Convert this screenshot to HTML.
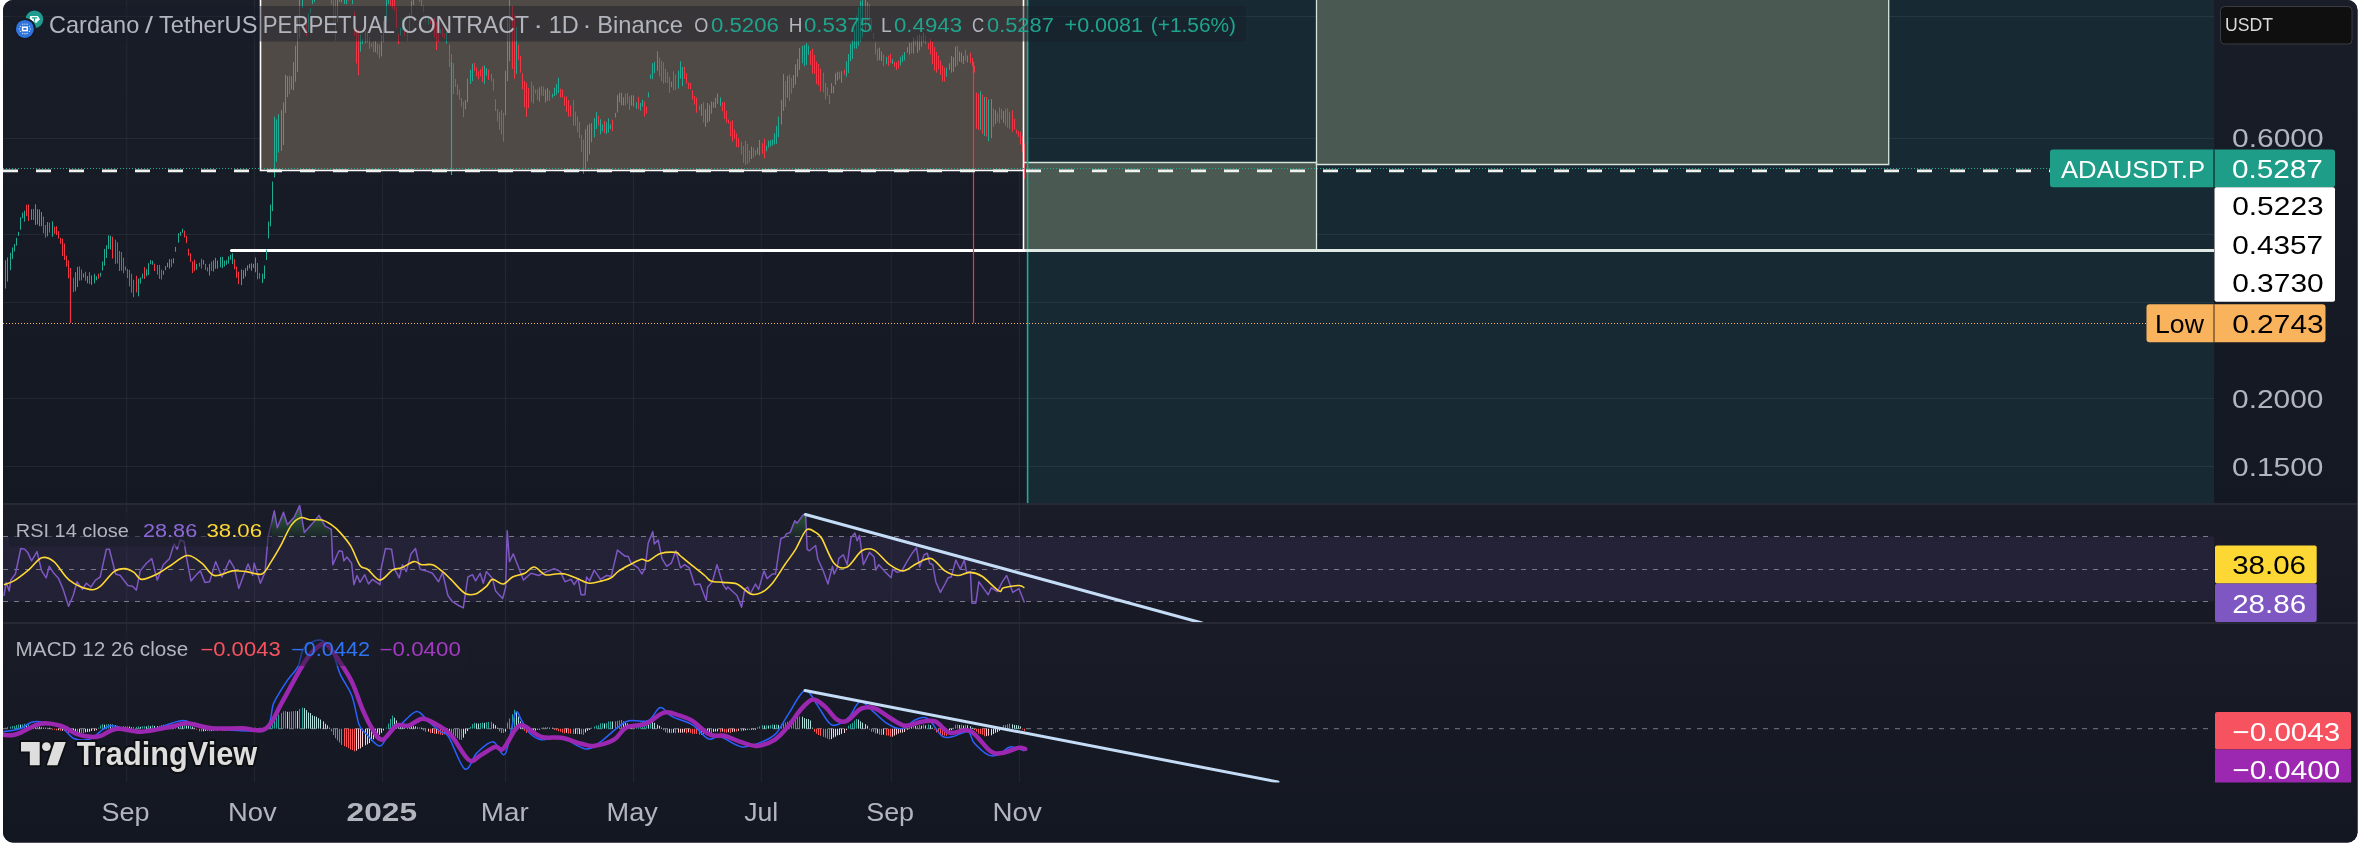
<!DOCTYPE html><html><head><meta charset="utf-8"><style>html,body{margin:0;padding:0;background:#fff;width:2360px;height:844px;overflow:hidden}svg{display:block;will-change:transform}text{font-family:"Liberation Sans",sans-serif}</style></head><body>
<svg width="2360" height="844" viewBox="0 0 2360 844">
<defs>
<clipPath id="cont"><rect x="3" y="0" width="2354.5" height="842.5" rx="10" ry="10"/></clipPath>
<clipPath id="mainc"><rect x="3" y="0" width="2211" height="503.5"/></clipPath>
<clipPath id="rsic"><rect x="3" y="504.5" width="2211" height="118"/></clipPath>
<clipPath id="macdc"><rect x="3" y="623.5" width="2211" height="159"/></clipPath>
<linearGradient id="bgg" x1="0" y1="0" x2="0" y2="1"><stop offset="0" stop-color="#181c27"/><stop offset="1" stop-color="#131722"/></linearGradient>
<linearGradient id="obg" gradientUnits="userSpaceOnUse" x1="0" y1="505" x2="0" y2="537"><stop offset="0" stop-color="#3f9a48" stop-opacity="0.6"/><stop offset="1" stop-color="#3f9a48" stop-opacity="0.08"/></linearGradient>
<linearGradient id="mg" x1="0" y1="0" x2="0" y2="1"><stop offset="0" stop-color="#191d28"/><stop offset="1" stop-color="#141823"/></linearGradient>
<linearGradient id="rg" x1="0" y1="0" x2="0" y2="1"><stop offset="0" stop-color="#1a1d28"/><stop offset="1" stop-color="#171a25"/></linearGradient>
<linearGradient id="bgg2" x1="0" y1="0" x2="0" y2="1"><stop offset="0" stop-color="#191c27"/><stop offset="1" stop-color="#131722"/></linearGradient>
</defs>
<rect width="2360" height="844" fill="#ffffff"/>
<g clip-path="url(#cont)">
<rect x="0" y="0" width="2360" height="844" fill="url(#bgg)"/>
<rect x="0" y="623.5" width="2360" height="221" fill="url(#bgg2)"/>
<g clip-path="url(#mainc)">
<rect x="3" y="0" width="2211" height="503.5" fill="url(#mg)"/>
<rect x="1027.5" y="0" width="1190" height="503.5" fill="#172a33"/>
<rect x="3" y="16.0" width="2211" height="1" fill="#ffffff" fill-opacity="0.06"/>
<rect x="3" y="138.0" width="2211" height="1" fill="#ffffff" fill-opacity="0.06"/>
<rect x="3" y="234.0" width="2211" height="1" fill="#ffffff" fill-opacity="0.06"/>
<rect x="3" y="302.0" width="2211" height="1" fill="#ffffff" fill-opacity="0.06"/>
<rect x="3" y="398.0" width="2211" height="1" fill="#ffffff" fill-opacity="0.06"/>
<rect x="3" y="466.0" width="2211" height="1" fill="#ffffff" fill-opacity="0.06"/>
<rect x="126.3" y="0" width="1" height="504" fill="#ffffff" fill-opacity="0.06"/>
<rect x="254.0" y="0" width="1" height="504" fill="#ffffff" fill-opacity="0.06"/>
<rect x="381.9" y="0" width="1" height="504" fill="#ffffff" fill-opacity="0.06"/>
<rect x="505.0" y="0" width="1" height="504" fill="#ffffff" fill-opacity="0.06"/>
<rect x="633.0" y="0" width="1" height="504" fill="#ffffff" fill-opacity="0.06"/>
<rect x="760.7" y="0" width="1" height="504" fill="#ffffff" fill-opacity="0.06"/>
<rect x="890.7" y="0" width="1" height="504" fill="#ffffff" fill-opacity="0.06"/>
<rect x="1018.8" y="0" width="1" height="504" fill="#ffffff" fill-opacity="0.06"/>
<rect x="260" y="-5" width="764" height="175.5" fill="#504a46"/>
<rect x="1024" y="-5" width="3.5" height="256" fill="#504a46"/>
<rect x="230" y="249" width="797.5" height="3" rx="1.5" fill="#ffffff"/>
<path d="M5.5 260.2V288.5M7.5 257.5V281.6M10.5 252.7V270.2M12.5 247.5V259.1M14.5 244.0V251.6M16.5 237.8V245.6M18.5 231.9V235.9M20.5 217.3V229.8M22.5 212.5V218.2M24.5 210.7V221.6M31.5 209.3V219.9M35.5 204.3V224.9M37.5 209.2V224.5M39.5 209.5V226.2M41.5 212.1V226.2M47.5 222.0V236.3M52.5 221.4V236.7M75.5 272.2V291.2M77.5 266.9V287.1M83.5 273.5V277.6M87.5 276.0V283.3M91.5 275.4V284.9M94.5 273.9V283.4M96.5 276.2V280.2M100.5 272.7V276.7M102.5 261.5V270.5M104.5 248.9V265.7M106.5 245.2V258.0M108.5 235.3V249.0M110.5 235.7V249.5M138.5 278.6V296.3M140.5 277.4V283.6M142.5 273.7V278.5M146.5 269.2V276.3M148.5 263.2V275.1M150.5 260.2V264.2M152.5 260.7V264.7M163.5 270.7V274.7M165.5 266.2V270.2M167.5 262.7V267.2M169.5 259.2V268.5M173.5 258.2V263.4M175.5 246.9V251.7M178.5 233.2V242.6M180.5 231.8V235.8M182.5 228.7V232.7M196.5 263.8V269.8M203.5 260.1V264.5M209.5 263.8V275.6M213.5 260.4V271.5M215.5 257.8V268.8M217.5 260.6V268.6M220.5 257.0V267.3M222.5 256.8V268.1M224.5 260.6V266.6M226.5 260.2V264.8M228.5 256.4V263.6M230.5 254.7V259.8M232.5 253.3V264.1M241.5 269.5V285.2M243.5 270.1V278.8M245.5 268.1V276.5M247.5 265.4V270.8M249.5 263.9V268.4M251.5 263.3V270.8M253.5 263.9V267.9M255.5 257.5V272.3M262.5 273.7V283.1M264.5 265.5V279.0M266.5 249.6V260.1M268.5 221.6V238.5M270.5 204.5V226.3M272.5 181.5V211.2M274.5 116.6V177.5M276.5 119.4V162.1M278.5 114.3V152.7M281.5 110.2V150.8M283.5 102.5V145.1M285.5 74.8V112.9M287.5 76.2V97.0M291.5 76.4V89.5M293.5 62.1V90.1M295.5 45.7V81.7M297.5 15.2V72.1M299.5 -8.2V38.4M302.5 -13.3V8.1M304.5 -23.2V-2.0M308.5 13.2V32.0M310.5 8.2V12.9M312.5 -5.4V4.0M314.5 -12.5V2.2M316.5 -23.0V-1.9M318.5 -27.8V-5.2M320.5 -25.9V-2.7M327.5 -25.5V-4.3M337.5 -3.8V22.4M339.5 -15.4V1.7M341.5 -23.5V2.3M344.5 -28.7V3.9M346.5 -26.1V4.1M352.5 -15.7V4.2M360.5 34.3V51.7M362.5 39.3V44.2M365.5 31.3V43.2M367.5 31.8V42.5M375.5 41.0V52.1M381.5 35.0V56.3M383.5 21.1V42.1M386.5 -3.2V21.0M388.5 -16.9V4.1M400.5 28.0V35.6M402.5 19.1V30.3M409.5 13.5V32.6M411.5 0.7V15.6M413.5 -7.0V4.9M415.5 -12.4V-5.7M428.5 17.2V24.8M440.5 29.0V33.6M446.5 32.0V43.4M465.5 99.9V109.3M467.5 78.7V102.2M470.5 69.8V84.0M472.5 63.7V81.1M484.5 65.5V84.0M486.5 68.3V75.8M505.5 70.7V115.4M507.5 17.6V81.1M509.5 -4.4V61.1M516.5 27.2V73.8M539.5 87.3V101.5M545.5 89.5V102.5M547.5 88.0V100.6M552.5 93.7V97.7M554.5 87.8V96.0M556.5 84.0V94.8M558.5 77.8V93.0M585.5 129.3V169.1M587.5 125.3V161.4M589.5 123.6V154.4M591.5 123.2V142.3M594.5 118.1V137.4M596.5 112.1V128.9M600.5 119.2V134.2M602.5 124.4V131.3M606.5 122.3V134.2M608.5 118.4V132.6M610.5 124.4V129.0M615.5 112.9V117.6M617.5 95.1V112.6M619.5 92.8V102.3M621.5 92.8V105.1M623.5 97.3V105.5M631.5 95.3V105.6M633.5 95.3V106.4M636.5 102.2V108.6M640.5 102.9V110.7M642.5 99.6V106.5M648.5 92.4V97.3M650.5 74.7V78.7M652.5 63.2V79.1M654.5 61.9V73.2M657.5 51.3V70.9M671.5 81.6V87.3M678.5 70.6V88.5M680.5 61.4V78.8M682.5 67.0V86.1M701.5 104.0V115.8M705.5 109.3V126.9M707.5 103.0V122.7M709.5 104.8V121.3M711.5 101.6V113.6M713.5 102.0V107.6M715.5 97.8V107.9M717.5 93.6V103.9M720.5 97.4V106.1M751.5 146.6V159.0M757.5 147.6V154.3M759.5 139.9V155.5M766.5 145.7V151.3M768.5 140.7V147.5M770.5 140.1V146.5M772.5 139.5V145.6M774.5 133.3V144.4M776.5 125.9V143.9M778.5 116.7V137.1M781.5 99.8V124.6M783.5 74.1V110.9M787.5 75.9V97.9M793.5 75.0V88.0M795.5 64.3V84.7M797.5 59.1V76.7M799.5 48.0V69.9M802.5 46.0V63.2M804.5 45.0V66.2M806.5 43.2V64.9M808.5 45.6V54.9M831.5 83.1V93.4M833.5 86.2V93.2M835.5 73.3V84.8M837.5 71.8V80.6M841.5 71.2V82.6M846.5 61.4V76.6M848.5 54.0V73.1M850.5 44.0V61.3M852.5 40.0V58.9M854.5 29.4V48.5M856.5 15.5V48.6M858.5 7.2V45.9M860.5 0.9V42.0M862.5 -3.0V37.3M865.5 -1.5V30.3M867.5 2.2V21.0M879.5 47.6V60.2M881.5 51.5V61.2M886.5 56.9V64.2M892.5 59.2V64.0M900.5 56.8V65.5M902.5 55.1V62.1M904.5 52.0V60.4M907.5 47.3V52.6M909.5 42.7V54.6M913.5 37.3V53.5M917.5 35.7V52.7M919.5 34.6V50.4M921.5 36.3V46.6M923.5 32.6V42.6M946.5 67.8V76.7M949.5 63.3V69.9M951.5 56.1V72.6M953.5 57.1V71.8M955.5 46.7V67.0M959.5 51.6V61.6M961.5 52.6V62.5M963.5 55.7V64.2M967.5 55.5V62.4M980.5 91.3V129.8M984.5 97.1V135.9M988.5 99.5V141.3M991.5 99.1V138.2M995.5 110.0V124.0M1003.5 111.0V122.7" stroke="#22ab94" stroke-width="1" fill="none"/>
<path d="M26.5 204.8V216.1M28.5 204.3V221.1M33.5 208.9V220.0M43.5 216.6V233.3M45.5 225.0V237.6M49.5 222.6V232.7M54.5 226.7V233.8M56.5 226.3V235.0M58.5 231.1V238.5M60.5 237.8V243.8M62.5 238.5V256.0M64.5 243.5V260.0M66.5 255.6V266.7M68.5 260.4V278.4M70.5 272.1V291.0M73.5 277.8V292.1M79.5 266.4V280.6M81.5 269.5V280.4M85.5 271.7V280.8M89.5 272.1V283.9M98.5 273.7V278.8M112.5 236.7V258.6M115.5 239.7V263.9M117.5 242.3V263.5M119.5 250.9V271.0M121.5 251.9V270.7M123.5 257.7V273.3M125.5 266.5V270.5M127.5 269.0V278.1M129.5 269.9V286.4M131.5 273.7V292.6M133.5 279.7V297.2M136.5 275.7V292.4M144.5 267.1V279.0M154.5 263.7V271.1M157.5 265.0V274.6M159.5 264.9V278.9M161.5 269.7V279.5M171.5 259.1V266.9M184.5 230.7V237.4M186.5 235.9V243.2M188.5 248.7V255.7M190.5 253.4V262.0M192.5 261.5V273.1M194.5 259.6V271.2M199.5 262.7V266.7M201.5 258.8V268.6M205.5 263.9V269.9M207.5 267.4V271.4M211.5 261.6V270.8M234.5 259.3V269.2M236.5 266.5V277.9M238.5 271.7V284.2M257.5 263.0V279.4M259.5 272.9V278.7M289.5 75.6V94.2M306.5 17.7V36.1M323.5 -22.2V-4.4M325.5 -26.0V-6.4M329.5 -19.6V-5.4M331.5 -12.4V4.5M333.5 -11.2V25.5M335.5 -2.3V40.7M348.5 -20.8V0.8M350.5 -20.3V-0.1M354.5 11.5V35.9M356.5 29.5V63.5M358.5 29.6V75.2M369.5 36.8V48.8M371.5 42.9V46.9M373.5 41.4V52.2M377.5 43.5V54.6M379.5 44.6V58.5M390.5 -11.8V5.8M392.5 -7.5V8.7M394.5 -4.8V10.6M396.5 7.1V27.9M398.5 33.7V44.1M404.5 29.4V35.9M407.5 29.1V41.2M417.5 -13.2V-6.1M419.5 -16.6V1.9M421.5 -10.2V6.3M423.5 5.4V12.4M425.5 14.9V22.3M430.5 19.2V24.0M432.5 20.4V29.7M434.5 18.1V37.6M436.5 22.0V50.1M438.5 23.2V42.0M442.5 27.7V37.5M444.5 33.2V38.7M449.5 44.5V66.9M451.5 53.9V92.5M453.5 63.1V94.3M455.5 78.9V86.9M457.5 84.5V95.2M459.5 89.7V99.6M461.5 98.0V106.6M463.5 101.7V117.1M474.5 63.0V71.0M476.5 67.5V76.4M478.5 71.3V79.2M480.5 69.2V76.5M482.5 66.4V82.1M488.5 69.6V79.9M491.5 74.0V81.3M493.5 78.8V90.6M495.5 99.2V111.1M497.5 109.0V121.3M499.5 111.9V129.9M501.5 110.0V134.6M503.5 112.8V141.7M512.5 6.1V68.9M514.5 15.2V78.8M518.5 44.7V60.0M520.5 55.8V72.5M522.5 73.2V89.2M524.5 80.9V107.2M526.5 82.7V116.9M528.5 87.9V108.0M531.5 81.5V102.2M533.5 85.5V103.5M535.5 89.4V93.7M537.5 89.1V99.9M541.5 86.1V95.6M543.5 86.7V96.1M549.5 90.3V100.9M560.5 88.7V97.5M562.5 89.4V97.5M564.5 96.7V105.7M566.5 96.5V111.7M568.5 100.0V116.5M570.5 105.4V116.5M573.5 100.0V125.5M575.5 111.6V125.7M577.5 116.4V132.3M579.5 121.7V138.1M581.5 135.1V151.8M583.5 139.6V173.7M598.5 115.9V125.5M604.5 121.0V133.0M612.5 119.7V131.1M625.5 93.5V105.4M627.5 93.0V103.5M629.5 96.4V110.0M638.5 97.0V109.1M644.5 101.5V116.6M646.5 106.6V113.7M659.5 57.6V76.4M661.5 60.9V81.1M663.5 62.3V83.7M665.5 68.9V82.7M667.5 71.9V83.2M669.5 76.9V92.8M673.5 71.2V90.1M675.5 74.4V89.9M684.5 66.9V79.0M686.5 73.4V83.5M688.5 82.4V89.0M690.5 83.0V89.2M692.5 90.2V99.3M694.5 96.0V104.6M696.5 97.7V112.7M699.5 105.6V110.3M703.5 102.2V122.5M722.5 102.3V111.2M724.5 101.9V119.0M726.5 110.7V122.7M728.5 119.6V123.6M730.5 121.7V136.3M732.5 120.2V141.5M734.5 129.3V138.9M736.5 133.4V147.0M738.5 137.8V147.4M741.5 141.7V154.4M743.5 146.1V162.9M745.5 140.9V164.8M747.5 143.9V164.2M749.5 150.3V162.4M753.5 147.8V157.6M755.5 150.0V155.9M762.5 143.2V153.8M764.5 138.7V158.3M785.5 81.1V106.9M789.5 74.5V101.0M791.5 78.0V93.7M810.5 50.7V64.9M812.5 48.6V73.7M814.5 54.9V73.8M816.5 61.6V84.1M818.5 64.1V85.6M820.5 68.7V91.5M823.5 72.7V92.4M825.5 83.1V99.4M827.5 87.3V96.2M829.5 95.0V104.2M839.5 71.8V79.1M844.5 69.6V74.7M869.5 4.3V23.6M871.5 18.4V32.3M873.5 32.8V38.6M875.5 42.3V54.5M877.5 48.8V60.9M883.5 54.5V66.2M888.5 55.7V65.9M890.5 53.9V63.0M894.5 61.8V66.9M896.5 62.2V69.8M898.5 60.6V68.7M911.5 42.4V53.2M915.5 39.4V45.6M925.5 35.6V44.1M928.5 43.2V49.2M930.5 38.8V54.5M932.5 41.9V64.1M934.5 47.2V70.6M936.5 51.9V72.6M938.5 55.6V69.2M940.5 60.7V74.7M942.5 65.5V81.3M944.5 67.5V81.5M957.5 45.7V65.3M965.5 49.9V60.9M970.5 52.7V63.1M972.5 58.0V66.4M974.5 65.8V72.5M976.5 92.6V128.8M978.5 93.5V130.1M982.5 94.7V133.8M986.5 96.9V136.6M993.5 108.4V127.0M997.5 112.6V121.8M999.5 107.3V123.4M1001.5 109.0V119.5M1005.5 108.8V125.4M1007.5 108.3V127.5M1009.5 111.8V128.9M1012.5 110.5V131.6M1014.5 118.8V129.7M1016.5 129.7V133.7M1018.5 131.1V136.9M1020.5 131.7V144.6M1022.5 135.7V152.0M1024.5 143.5V178.8" stroke="#f23645" stroke-width="1" fill="none"/>
<path d="M973.5 62V323" stroke="#f23645" stroke-width="1.2"/>
<path d="M451.5 62V175" stroke="#22ab94" stroke-width="1.2"/>
<path d="M70.5 268V323" stroke="#f23645" stroke-width="1.2"/>
<path d="M260.5 -5V170.5H1023.5V-5" stroke="#ffffff" stroke-width="1.6" fill="none"/>
<path d="M1023.5 170.5V251" stroke="#ffffff" stroke-width="1.6" fill="none"/>
<rect x="1027.5" y="162.5" width="289" height="88.5" fill="#4b5953"/>
<rect x="1316.5" y="-5" width="572" height="169.5" fill="#4b5953"/>
<path d="M1023.5 162.5H1316.5V251" stroke="#d6e4dc" stroke-width="1.3" fill="none"/>
<path d="M1316.5 -5V164.5H1888.7V-5" stroke="#d6e4dc" stroke-width="1.3" fill="none"/>
<rect x="1026.8" y="0" width="1.6" height="503.5" fill="#22ab94"/>
<line x1="0" y1="168.5" x2="2050" y2="168.5" stroke="#22ab94" stroke-width="1" stroke-dasharray="1 2"/>
<line x1="3" y1="170.8" x2="2050" y2="170.8" stroke="#eef3f0" stroke-width="2.8" stroke-dasharray="15 18"/>
<rect x="1025" y="249" width="1189" height="3" fill="#dfeae4"/>
<line x1="0" y1="323.5" x2="2146" y2="323.5" stroke="#f9b35d" stroke-width="1" stroke-dasharray="1 2"/>
</g>
<rect x="10" y="6" width="1236" height="35.5" fill="#181c27" fill-opacity="0.45"/>
<circle cx="34.4" cy="19.2" r="8.8" fill="#1f9c8f"/>
<polygon points="30.2,15.9 37.8,15.9 40,19.3 36.2,23.1 29.6,19.6" fill="#ffffff"/>
<path d="M31.8 17.2H37.2V18.4H35.1V21.6H33.9V18.4H31.8Z" fill="#1f9c8f"/>
<circle cx="24.9" cy="28.9" r="10.9" fill="#161a25"/>
<circle cx="24.9" cy="28.9" r="9" fill="#2f74dc"/>
<rect x="22.6" y="27.2" width="4.6" height="3.4" fill="none" stroke="#ffffff" stroke-width="1.5"/>
<circle cx="20.4" cy="26.4" r="0.7" fill="#ffffff" fill-opacity="0.75"/>
<circle cx="29.4" cy="26.4" r="0.7" fill="#ffffff" fill-opacity="0.75"/>
<circle cx="20.4" cy="31.4" r="0.7" fill="#ffffff" fill-opacity="0.75"/>
<circle cx="29.4" cy="31.4" r="0.7" fill="#ffffff" fill-opacity="0.75"/>
<circle cx="24.9" cy="24.1" r="0.7" fill="#ffffff" fill-opacity="0.75"/>
<circle cx="24.9" cy="33.7" r="0.7" fill="#ffffff" fill-opacity="0.75"/>
<circle cx="22.7" cy="24.3" r="0.7" fill="#ffffff" fill-opacity="0.75"/>
<circle cx="27.1" cy="24.3" r="0.7" fill="#ffffff" fill-opacity="0.75"/>
<circle cx="22.7" cy="33.5" r="0.7" fill="#ffffff" fill-opacity="0.75"/>
<circle cx="27.1" cy="33.5" r="0.7" fill="#ffffff" fill-opacity="0.75"/>
<circle cx="19.4" cy="28.9" r="0.7" fill="#ffffff" fill-opacity="0.75"/>
<circle cx="30.4" cy="28.9" r="0.7" fill="#ffffff" fill-opacity="0.75"/>
<text x="49.00" y="33.00" font-size="23.60" fill="#b2b5be" font-weight="normal" textLength="90.23" lengthAdjust="spacingAndGlyphs">Cardano</text>
<text x="145.00" y="33.00" font-size="23.60" fill="#b2b5be" font-weight="normal" textLength="8.00" lengthAdjust="spacingAndGlyphs">/</text>
<text x="159.00" y="33.00" font-size="23.60" fill="#b2b5be" font-weight="normal" textLength="98.42" lengthAdjust="spacingAndGlyphs">TetherUS</text>
<text x="262.80" y="33.00" font-size="23.60" fill="#b2b5be" font-weight="normal" textLength="132.03" lengthAdjust="spacingAndGlyphs">PERPETUAL</text>
<text x="401.00" y="33.00" font-size="23.60" fill="#b2b5be" font-weight="normal" textLength="128.02" lengthAdjust="spacingAndGlyphs">CONTRACT</text>
<text x="533.20" y="33.00" font-size="23.60" fill="#b2b5be" font-weight="normal" textLength="9.88" lengthAdjust="spacingAndGlyphs">·</text>
<text x="548.80" y="33.00" font-size="23.60" fill="#b2b5be" font-weight="normal" textLength="30.04" lengthAdjust="spacingAndGlyphs">1D</text>
<text x="582.60" y="33.00" font-size="23.60" fill="#b2b5be" font-weight="normal" textLength="8.84" lengthAdjust="spacingAndGlyphs">·</text>
<text x="597.20" y="33.00" font-size="23.60" fill="#b2b5be" font-weight="normal" textLength="85.67" lengthAdjust="spacingAndGlyphs">Binance</text>
<text x="694.20" y="31.80" font-size="19.40" fill="#b2b5be" font-weight="normal" textLength="14.08" lengthAdjust="spacingAndGlyphs">O</text>
<text x="711.00" y="31.80" font-size="19.40" fill="#20a38d" font-weight="normal" textLength="67.83" lengthAdjust="spacingAndGlyphs">0.5206</text>
<text x="788.80" y="31.80" font-size="19.40" fill="#b2b5be" font-weight="normal" textLength="13.72" lengthAdjust="spacingAndGlyphs">H</text>
<text x="804.00" y="31.80" font-size="19.40" fill="#20a38d" font-weight="normal" textLength="68.06" lengthAdjust="spacingAndGlyphs">0.5375</text>
<text x="881.00" y="31.80" font-size="19.40" fill="#b2b5be" font-weight="normal" textLength="10.71" lengthAdjust="spacingAndGlyphs">L</text>
<text x="894.00" y="31.80" font-size="19.40" fill="#20a38d" font-weight="normal" textLength="68.04" lengthAdjust="spacingAndGlyphs">0.4943</text>
<text x="972.00" y="31.80" font-size="19.40" fill="#b2b5be" font-weight="normal" textLength="12.15" lengthAdjust="spacingAndGlyphs">C</text>
<text x="987.00" y="31.80" font-size="19.40" fill="#20a38d" font-weight="normal" textLength="66.83" lengthAdjust="spacingAndGlyphs">0.5287</text>
<text x="1064.60" y="31.80" font-size="19.40" fill="#20a38d" font-weight="normal" textLength="78.44" lengthAdjust="spacingAndGlyphs">+0.0081</text>
<text x="1150.80" y="31.80" font-size="19.40" fill="#20a38d" font-weight="normal" textLength="85.26" lengthAdjust="spacingAndGlyphs">(+1.56%)</text>
<rect x="2214" y="0" width="150" height="503.5" fill="url(#mg)"/>
<rect x="2220.5" y="6.5" width="131.5" height="37.5" rx="4" fill="#0f0f0f" stroke="#3a3c44" stroke-width="1"/>
<text x="2225.00" y="31.30" font-size="17.80" fill="#d9dadc" font-weight="normal" textLength="48.06" lengthAdjust="spacingAndGlyphs">USDT</text>
<text x="2232.00" y="147.00" font-size="26.60" fill="#b2b5be" font-weight="normal" textLength="91.64" lengthAdjust="spacingAndGlyphs">0.6000</text>
<text x="2232.00" y="408.20" font-size="26.60" fill="#b2b5be" font-weight="normal" textLength="91.44" lengthAdjust="spacingAndGlyphs">0.2000</text>
<text x="2232.00" y="476.00" font-size="26.60" fill="#b2b5be" font-weight="normal" textLength="91.44" lengthAdjust="spacingAndGlyphs">0.1500</text>
<rect x="2050" y="149.5" width="285" height="37.8" rx="3" fill="#1e9e88"/>
<rect x="2213.5" y="149.5" width="1" height="37.8" fill="#0b0e15"/>
<text x="2061.00" y="177.80" font-size="24.60" fill="#ffffff" font-weight="normal" textLength="144.01" lengthAdjust="spacingAndGlyphs">ADAUSDT.P</text>
<text x="2232.00" y="178.00" font-size="26.60" fill="#ffffff" font-weight="normal" textLength="90.84" lengthAdjust="spacingAndGlyphs">0.5287</text>
<rect x="2214.5" y="187.3" width="120.5" height="114.4" rx="2" fill="#ffffff"/>
<text x="2232.20" y="215.00" font-size="26.60" fill="#000000" font-weight="normal" textLength="91.46" lengthAdjust="spacingAndGlyphs">0.5223</text>
<text x="2232.20" y="253.50" font-size="26.60" fill="#000000" font-weight="normal" textLength="90.88" lengthAdjust="spacingAndGlyphs">0.4357</text>
<text x="2232.20" y="291.60" font-size="26.60" fill="#000000" font-weight="normal" textLength="91.46" lengthAdjust="spacingAndGlyphs">0.3730</text>
<rect x="2146.5" y="304.2" width="179" height="38.1" rx="3" fill="#f9b35d"/>
<rect x="2213.5" y="304.2" width="1" height="38.1" fill="#3b2a12"/>
<text x="2155.00" y="332.80" font-size="26.60" fill="#000000" font-weight="normal" textLength="48.89" lengthAdjust="spacingAndGlyphs">Low</text>
<text x="2232.20" y="332.60" font-size="26.60" fill="#000000" font-weight="normal" textLength="91.46" lengthAdjust="spacingAndGlyphs">0.2743</text>
<rect x="3" y="504.5" width="2360" height="118" fill="url(#rg)"/>
<g clip-path="url(#rsic)">
<rect x="126.3" y="505" width="1" height="118" fill="#ffffff" fill-opacity="0.06"/>
<rect x="254.0" y="505" width="1" height="118" fill="#ffffff" fill-opacity="0.06"/>
<rect x="381.9" y="505" width="1" height="118" fill="#ffffff" fill-opacity="0.06"/>
<rect x="505.0" y="505" width="1" height="118" fill="#ffffff" fill-opacity="0.06"/>
<rect x="633.0" y="505" width="1" height="118" fill="#ffffff" fill-opacity="0.06"/>
<rect x="760.7" y="505" width="1" height="118" fill="#ffffff" fill-opacity="0.06"/>
<rect x="890.7" y="505" width="1" height="118" fill="#ffffff" fill-opacity="0.06"/>
<rect x="1018.8" y="505" width="1" height="118" fill="#ffffff" fill-opacity="0.06"/>
<rect x="3" y="536.5" width="2211" height="65" fill="#7e57c2" fill-opacity="0.10"/>
<line x1="3" y1="536.5" x2="2214" y2="536.5" stroke="#787b86" stroke-width="1" stroke-dasharray="5 6"/>
<line x1="3" y1="569.5" x2="2214" y2="569.5" stroke="#787b86" stroke-width="1" stroke-dasharray="5 6"/>
<line x1="3" y1="601.5" x2="2214" y2="601.5" stroke="#787b86" stroke-width="1" stroke-dasharray="5 6"/>
<polygon points="268.2,536.5 274.3,510.8 277.3,527.7 283.5,512.3 287.4,524.7 294.3,517.0 299.7,505.4 304.3,532.4 312.8,523.1 319.0,515.4 325.1,526.2 331.3,529.3 331.6,536.5" fill="url(#obg)"/>
<polygon points="507.0,536.5 507.2,530.8 507.6,536.5" fill="url(#obg)"/>
<polygon points="650.8,536.5 652.8,531.6 653.4,536.5" fill="url(#obg)"/>
<polygon points="785.0,536.5 786.3,533.9 790.2,532.4 794.8,520.8 797.1,523.1 803.3,514.6 805.6,513.9 806.6,536.5" fill="url(#obg)"/>
<polygon points="852.1,536.5 854.9,533.1 855.9,536.5" fill="url(#obg)"/>
<polygon points="859.0,536.5 859.5,535.4 859.6,536.5" fill="url(#obg)"/>
<polyline points="3.9,596.0 6.2,582.4 9.2,591.0 10.8,580.0 15.4,574.0 20.8,548.5 24.7,549.3 27.7,552.4 31.6,560.9 37.0,551.6 41.6,570.9 46.2,577.8 49.3,566.3 53.2,572.4 58.6,578.6 63.2,589.4 68.6,606.3 73.2,595.5 77.0,581.7 82.4,589.4 86.3,583.2 90.9,587.0 95.5,580.1 100.2,577.0 106.3,549.3 109.4,549.3 115.6,574.0 120.2,575.5 127.9,585.5 132.5,586.3 136.4,590.1 140.2,570.9 146.4,563.2 151.8,558.6 157.2,580.1 163.3,564.7 169.5,558.6 174.1,543.9 177.2,549.3 180.3,540.0 184.1,541.6 186.4,557.0 191.0,580.9 195.7,575.5 200.3,570.9 204.9,582.4 209.6,581.7 215.7,561.6 221.9,577.0 229.6,560.1 234.2,567.8 238.8,588.6 243.5,575.5 248.1,564.0 252.7,575.5 254.2,563.2 260.4,583.2 265.0,572.4 268.1,537.0 274.3,510.8 277.3,527.7 283.5,512.3 287.4,524.7 294.3,517.0 299.7,505.4 304.3,532.4 312.8,523.1 319.0,515.4 325.1,526.2 331.3,529.3 332.8,564.7 339.0,550.8 342.3,551.6 343.9,560.9 346.9,557.0 351.6,563.2 353.9,584.7 357.0,575.5 360.0,582.4 364.7,574.7 368.5,584.0 372.4,579.4 380.0,584.7 380.8,570.1 385.5,548.5 391.6,549.3 394.7,569.3 399.3,577.8 402.4,564.7 406.3,571.6 410.9,553.9 415.5,548.5 420.1,569.3 426.3,570.9 432.4,573.2 438.6,581.7 442.5,572.4 447.9,595.5 452.5,601.7 458.6,605.5 463.3,607.9 467.9,577.0 472.5,574.7 475.6,580.9 480.2,573.2 483.3,583.2 486.4,571.6 492.5,578.6 495.6,590.9 502.6,598.6 505.6,587.8 507.2,530.8 509.5,561.6 513.3,553.9 518.7,567.8 523.4,580.1 531.0,573.2 538.8,575.5 545.0,572.4 554.2,568.6 560.3,571.6 565.0,581.7 571.1,579.4 574.2,584.7 578.0,578.6 581.1,594.8 585.0,594.8 586.5,577.0 589.6,580.9 594.2,570.1 600.4,579.4 606.6,575.5 611.2,576.3 617.4,550.1 625.0,556.2 628.1,556.2 631.2,563.2 638.1,567.8 642.0,574.0 645.1,567.8 648.2,543.1 652.8,531.6 654.3,543.9 658.2,540.1 662.0,558.6 666.7,566.3 671.3,563.2 675.9,550.8 680.5,567.8 684.6,564.7 689.2,567.8 694.6,584.7 700.0,584.0 706.2,600.2 707.7,587.0 712.4,581.7 717.0,564.7 723.1,584.7 726.2,589.4 727.8,587.0 737.0,595.5 741.6,607.1 744.7,589.4 747.8,587.0 750.1,594.0 755.5,584.0 758.6,589.4 764.0,570.9 767.1,578.6 772.4,574.0 775.5,574.0 780.9,538.5 784.8,537.0 786.3,533.9 790.2,532.4 794.8,520.8 797.1,523.1 803.3,514.6 805.6,513.9 807.1,549.3 809.4,550.8 815.6,545.5 817.9,559.3 823.3,570.9 827.9,584.0 832.5,566.3 834.1,574.0 837.2,567.8 838.7,558.6 843.3,554.7 847.2,564.7 851.0,537.8 854.9,533.1 857.2,540.8 859.5,535.4 863.4,564.7 865.7,560.1 869.5,552.4 874.1,557.0 875.7,570.1 878.8,564.7 884.9,571.6 891.1,577.8 892.6,569.3 897.3,572.4 901.9,570.9 906.5,562.4 912.7,552.4 916.5,547.8 919.6,567.0 924.2,554.7 927.3,553.2 929.6,563.2 932.7,564.7 935.8,581.7 940.4,592.4 945.0,584.0 948.1,577.8 951.2,577.0 955.8,560.1 960.4,569.3 964.3,560.1 966.6,572.4 970.4,571.6 972.0,603.2 975.8,603.2 978.9,581.7 984.3,589.4 988.2,594.8 991.3,587.8 997.4,591.7 1002.0,582.4 1006.7,575.5 1012.8,592.4 1019.0,588.6 1024.4,602.5" fill="none" stroke="#7e57c2" stroke-width="1.5" stroke-linejoin="round"/>
<path d="M3.9 584.7C5.6 584.1 9.7 583.5 13.9 580.9C18.1 578.3 24.7 573.1 29.3 569.3C33.9 565.4 37.5 559.1 41.6 557.8C45.7 556.5 49.3 557.9 53.9 561.6C58.5 565.3 63.4 575.5 69.3 580.1C75.2 584.7 84.2 588.4 89.4 589.4C94.6 590.4 96.1 589.3 100.2 586.3C104.3 583.3 109.9 574.5 114.0 571.6C118.1 568.7 121.5 568.5 124.8 568.6C128.1 568.7 131.2 570.6 134.0 572.4C136.8 574.2 137.9 579.1 141.8 579.4C145.7 579.7 152.6 576.2 157.2 574.0C161.8 571.8 164.5 569.4 169.5 566.3C174.5 563.2 181.8 556.0 187.2 555.5C192.6 555.0 197.3 559.9 201.8 563.2C206.3 566.5 209.0 574.2 214.2 575.5C219.3 576.8 227.3 571.5 232.7 570.9C238.1 570.2 241.6 571.1 246.5 571.6C251.4 572.1 257.9 575.7 262.0 574.0C266.1 572.3 268.1 566.2 271.2 561.6C274.3 557.0 277.1 552.2 280.4 546.2C283.7 540.2 287.8 530.1 291.2 525.4C294.6 520.6 297.4 518.7 300.5 517.7C303.6 516.8 306.1 519.3 309.7 519.7C313.3 520.1 318.4 519.2 322.0 520.0C325.6 520.8 328.3 522.6 331.3 524.7C334.3 526.8 336.8 528.8 340.0 532.4C343.2 536.0 347.5 540.7 350.8 546.2C354.1 551.7 357.2 561.6 360.0 565.5C362.8 569.4 364.4 566.9 367.7 569.3C371.0 571.7 375.9 580.0 380.0 580.1C384.1 580.2 388.8 572.2 392.4 570.1C396.0 568.0 398.0 569.2 401.6 567.8C405.2 566.4 410.6 562.1 414.0 561.6C417.4 561.1 418.6 564.2 421.7 564.7C424.8 565.2 429.1 563.7 432.4 564.7C435.7 565.7 438.6 568.5 441.7 570.9C444.8 573.3 447.0 575.7 450.9 579.4C454.8 583.1 460.7 590.8 464.8 593.2C468.9 595.6 472.0 595.1 475.6 594.0C479.2 592.9 483.6 588.7 486.4 586.3C489.2 583.9 489.7 579.8 492.5 579.4C495.3 579.0 499.9 584.4 503.3 584.0C506.7 583.6 509.0 578.8 512.6 577.0C516.2 575.2 521.3 574.9 524.9 573.2C528.5 571.5 530.8 566.8 534.1 567.0C537.5 567.2 541.4 573.5 545.0 574.7C548.6 575.9 552.4 574.1 555.7 574.0C559.0 573.9 561.4 573.2 565.0 574.0C568.6 574.8 573.2 577.1 577.3 578.6C581.4 580.1 585.5 582.8 589.6 583.2C593.7 583.6 598.4 581.8 602.0 580.9C605.6 580.0 608.4 579.5 611.2 577.8C614.0 576.1 615.3 573.3 618.9 570.9C622.5 568.5 628.9 565.1 632.8 563.2C636.6 561.3 639.4 559.7 642.0 559.3C644.6 558.9 645.1 561.8 648.2 560.9C651.3 560.0 655.9 555.0 660.5 553.6C665.1 552.2 672.6 552.1 675.9 552.4C679.1 552.7 677.8 553.7 680.0 555.5C682.2 557.3 685.1 559.9 689.2 563.2C693.3 566.5 701.1 572.5 704.7 575.5C708.3 578.5 707.7 579.8 710.8 580.9C713.9 582.0 718.7 581.9 723.1 582.4C727.5 582.9 732.4 582.1 737.0 584.0C741.6 585.9 746.8 592.6 750.9 594.0C755.0 595.4 758.1 594.2 761.7 592.4C765.3 590.6 768.5 587.8 772.4 583.2C776.2 578.6 780.9 570.4 784.8 564.7C788.7 559.1 792.0 555.1 795.6 549.3C799.2 543.5 803.0 532.8 806.3 530.0C809.6 527.2 813.0 531.0 815.6 532.4C818.2 533.8 818.7 533.4 821.8 538.5C824.9 543.6 829.9 558.5 834.1 563.2C838.3 568.0 842.6 569.1 847.2 567.0C851.8 564.9 857.3 553.6 861.8 550.8C866.3 548.0 869.5 547.8 874.1 550.1C878.7 552.4 884.7 561.2 889.6 564.7C894.5 568.2 898.8 571.1 903.4 570.9C908.0 570.6 912.7 565.2 917.3 563.2C921.9 561.2 926.6 557.3 931.2 558.6C935.8 559.9 940.6 568.1 945.0 570.9C949.4 573.7 953.2 575.2 957.3 575.5C961.4 575.8 965.6 572.3 969.7 572.4C973.8 572.5 977.1 573.2 982.0 576.3C986.9 579.4 995.3 589.0 998.9 590.9C1002.5 592.8 1000.2 588.7 1003.6 587.8C1007.0 586.9 1015.5 585.5 1019.0 585.5C1022.5 585.5 1023.5 587.4 1024.4 587.8" fill="none" stroke="#fdd835" stroke-width="1.6" stroke-linejoin="round"/>
<line x1="805.5" y1="514.5" x2="1202" y2="623" stroke="#c4dcf5" stroke-width="3" stroke-linecap="round"/>
</g>
<rect x="9" y="513" width="262.6" height="33.5" fill="#1a1d28" fill-opacity="0.55"/>
<text x="15.80" y="536.80" font-size="18.70" fill="#b2b5be" font-weight="normal" textLength="113.04" lengthAdjust="spacingAndGlyphs">RSI 14 close</text>
<text x="143.00" y="536.80" font-size="18.70" fill="#8c68d8" font-weight="normal" textLength="54.23" lengthAdjust="spacingAndGlyphs">28.86</text>
<text x="206.40" y="536.80" font-size="18.70" fill="#fdd835" font-weight="normal" textLength="55.67" lengthAdjust="spacingAndGlyphs">38.06</text>
<rect x="2215" y="545.6" width="101.7" height="38" rx="2" fill="#fdd835"/>
<text x="2232.20" y="574.20" font-size="26.60" fill="#000000" font-weight="normal" textLength="73.86" lengthAdjust="spacingAndGlyphs">38.06</text>
<rect x="2215" y="583.5" width="101.7" height="38.5" rx="2" fill="#7e57c2"/>
<text x="2232.20" y="612.80" font-size="26.60" fill="#ffffff" font-weight="normal" textLength="73.89" lengthAdjust="spacingAndGlyphs">28.86</text>
<g clip-path="url(#macdc)">
<rect x="126.3" y="623" width="1" height="159.5" fill="#ffffff" fill-opacity="0.06"/>
<rect x="254.0" y="623" width="1" height="159.5" fill="#ffffff" fill-opacity="0.06"/>
<rect x="381.9" y="623" width="1" height="159.5" fill="#ffffff" fill-opacity="0.06"/>
<rect x="505.0" y="623" width="1" height="159.5" fill="#ffffff" fill-opacity="0.06"/>
<rect x="633.0" y="623" width="1" height="159.5" fill="#ffffff" fill-opacity="0.06"/>
<rect x="760.7" y="623" width="1" height="159.5" fill="#ffffff" fill-opacity="0.06"/>
<rect x="890.7" y="623" width="1" height="159.5" fill="#ffffff" fill-opacity="0.06"/>
<rect x="1018.8" y="623" width="1" height="159.5" fill="#ffffff" fill-opacity="0.06"/>
<line x1="3" y1="728.7" x2="2214" y2="728.7" stroke="#787b86" stroke-width="1" stroke-dasharray="5 6"/>
<path d="M5.5 728.7V727.7M7.5 728.7V727.1M10.5 728.7V726.7M12.5 728.7V726.0M14.5 728.7V725.9M16.5 728.7V725.0M18.5 728.7V724.6M22.5 728.7V724.5M24.5 728.7V723.8M28.5 728.7V723.7M37.5 728.7V725.5M47.5 728.7V727.7M98.5 728.7V727.7M100.5 728.7V725.4M102.5 728.7V724.2M106.5 728.7V724.4M108.5 728.7V724.1M112.5 728.7V724.2M123.5 728.7V726.1M127.5 728.7V726.3M133.5 728.7V726.8M136.5 728.7V726.8M138.5 728.7V726.4M142.5 728.7V726.3M144.5 728.7V726.3M148.5 728.7V725.4M152.5 728.7V725.2M159.5 728.7V725.8M161.5 728.7V725.0M163.5 728.7V724.7M167.5 728.7V725.1M169.5 728.7V725.1M171.5 728.7V724.6M175.5 728.7V724.9M180.5 728.7V724.3M184.5 728.7V724.5M190.5 728.7V725.4M255.5 728.7V727.7M259.5 728.7V727.7M266.5 728.7V727.1M268.5 728.7V724.0M270.5 728.7V721.1M272.5 728.7V719.2M274.5 728.7V717.1M276.5 728.7V716.3M278.5 728.7V714.8M281.5 728.7V713.1M283.5 728.7V711.4M285.5 728.7V711.1M289.5 728.7V711.7M291.5 728.7V711.4M293.5 728.7V711.2M295.5 728.7V710.8M299.5 728.7V709.0M302.5 728.7V707.5M386.5 728.7V727.7M388.5 728.7V723.6M390.5 728.7V719.0M392.5 728.7V715.5M419.5 728.7V727.4M470.5 728.7V726.9M472.5 728.7V724.1M474.5 728.7V722.8M480.5 728.7V723.0M482.5 728.7V722.6M486.5 728.7V722.2M488.5 728.7V722.0M491.5 728.7V721.9M507.5 728.7V722.5M509.5 728.7V718.5M512.5 728.7V714.2M514.5 728.7V709.8M541.5 728.7V727.7M543.5 728.7V727.4M545.5 728.7V727.2M547.5 728.7V727.1M591.5 728.7V727.6M594.5 728.7V726.4M596.5 728.7V725.5M598.5 728.7V725.3M600.5 728.7V723.4M602.5 728.7V723.2M606.5 728.7V723.1M608.5 728.7V721.5M610.5 728.7V721.4M615.5 728.7V721.3M617.5 728.7V720.8M619.5 728.7V720.3M621.5 728.7V719.9M633.5 728.7V724.2M636.5 728.7V723.9M638.5 728.7V723.1M640.5 728.7V722.6M642.5 728.7V721.7M644.5 728.7V721.2M646.5 728.7V720.5M650.5 728.7V719.7M757.5 728.7V727.3M759.5 728.7V726.3M762.5 728.7V725.2M766.5 728.7V725.4M770.5 728.7V725.2M772.5 728.7V724.5M776.5 728.7V724.5M781.5 728.7V724.4M783.5 728.7V723.6M785.5 728.7V722.5M787.5 728.7V721.7M789.5 728.7V720.8M791.5 728.7V720.7M793.5 728.7V718.9M795.5 728.7V717.6M797.5 728.7V717.0M799.5 728.7V716.5M848.5 728.7V725.7M850.5 728.7V724.1M852.5 728.7V722.8M854.5 728.7V720.6M856.5 728.7V719.0M909.5 728.7V725.5M913.5 728.7V725.9M917.5 728.7V725.9M919.5 728.7V725.0M923.5 728.7V724.4M928.5 728.7V724.4M953.5 728.7V727.7M955.5 728.7V724.7M957.5 728.7V724.6M961.5 728.7V724.6M965.5 728.7V724.8M1001.5 728.7V727.7M1003.5 728.7V725.0M1005.5 728.7V725.0M1007.5 728.7V724.2M1009.5 728.7V723.7" stroke="#26a69a" stroke-width="1" fill="none"/>
<path d="M20.5 728.7V724.7M26.5 728.7V724.3M31.5 728.7V725.1M33.5 728.7V725.7M35.5 728.7V726.0M39.5 728.7V726.7M41.5 728.7V727.3M43.5 728.7V727.7M45.5 728.7V727.7M49.5 728.7V727.7M104.5 728.7V724.7M110.5 728.7V724.4M115.5 728.7V725.2M117.5 728.7V725.8M119.5 728.7V726.9M121.5 728.7V726.9M125.5 728.7V726.7M129.5 728.7V726.6M131.5 728.7V727.3M140.5 728.7V726.9M146.5 728.7V726.4M150.5 728.7V726.2M154.5 728.7V725.9M157.5 728.7V726.1M165.5 728.7V725.8M173.5 728.7V725.3M178.5 728.7V725.0M182.5 728.7V725.1M186.5 728.7V725.5M188.5 728.7V725.8M192.5 728.7V726.6M194.5 728.7V727.7M287.5 728.7V711.8M297.5 728.7V711.1M304.5 728.7V708.2M306.5 728.7V710.1M308.5 728.7V712.5M310.5 728.7V713.1M312.5 728.7V715.4M314.5 728.7V716.2M316.5 728.7V716.7M318.5 728.7V718.2M320.5 728.7V719.5M323.5 728.7V721.3M325.5 728.7V723.7M327.5 728.7V725.3M329.5 728.7V727.7M394.5 728.7V717.7M396.5 728.7V720.4M398.5 728.7V723.5M400.5 728.7V724.0M402.5 728.7V724.8M404.5 728.7V725.0M407.5 728.7V725.3M409.5 728.7V725.5M411.5 728.7V726.1M413.5 728.7V726.2M415.5 728.7V726.3M417.5 728.7V727.5M421.5 728.7V727.7M476.5 728.7V723.4M478.5 728.7V723.5M484.5 728.7V722.9M493.5 728.7V723.7M495.5 728.7V725.2M497.5 728.7V727.7M516.5 728.7V712.2M518.5 728.7V716.7M520.5 728.7V721.4M522.5 728.7V726.2M549.5 728.7V727.7M552.5 728.7V727.7M604.5 728.7V723.5M612.5 728.7V721.5M623.5 728.7V721.6M625.5 728.7V723.1M627.5 728.7V723.5M629.5 728.7V724.9M631.5 728.7V725.7M648.5 728.7V720.6M652.5 728.7V721.4M654.5 728.7V722.8M657.5 728.7V724.7M659.5 728.7V725.8M661.5 728.7V727.7M764.5 728.7V725.6M768.5 728.7V725.6M774.5 728.7V724.8M778.5 728.7V724.9M802.5 728.7V716.7M804.5 728.7V718.1M806.5 728.7V718.9M808.5 728.7V719.1M810.5 728.7V720.5M812.5 728.7V727.7M858.5 728.7V719.5M860.5 728.7V721.3M862.5 728.7V722.7M865.5 728.7V724.1M867.5 728.7V725.7M911.5 728.7V725.9M915.5 728.7V726.0M921.5 728.7V725.6M925.5 728.7V725.4M930.5 728.7V725.2M932.5 728.7V727.7M959.5 728.7V725.0M963.5 728.7V725.5M967.5 728.7V725.3M970.5 728.7V726.3M972.5 728.7V727.7M1012.5 728.7V724.3M1014.5 728.7V724.9M1016.5 728.7V725.1M1018.5 728.7V725.5M1020.5 728.7V726.4" stroke="#b2dfdb" stroke-width="1" fill="none"/>
<path d="M52.5 728.7V729.7M54.5 728.7V729.7M56.5 728.7V730.4M60.5 728.7V730.8M64.5 728.7V731.1M66.5 728.7V731.5M68.5 728.7V732.9M77.5 728.7V733.2M81.5 728.7V733.2M83.5 728.7V733.3M196.5 728.7V729.7M199.5 728.7V731.3M201.5 728.7V731.3M207.5 728.7V731.1M209.5 728.7V731.3M217.5 728.7V731.1M222.5 728.7V731.0M230.5 728.7V730.1M232.5 728.7V730.2M236.5 728.7V730.2M247.5 728.7V729.7M249.5 728.7V729.7M253.5 728.7V729.7M257.5 728.7V729.7M262.5 728.7V729.7M331.5 728.7V731.4M333.5 728.7V735.1M335.5 728.7V738.2M337.5 728.7V740.4M339.5 728.7V742.5M341.5 728.7V744.9M344.5 728.7V746.2M346.5 728.7V747.0M348.5 728.7V748.2M350.5 728.7V749.6M352.5 728.7V750.1M354.5 728.7V751.3M423.5 728.7V730.5M425.5 728.7V731.8M430.5 728.7V733.2M434.5 728.7V733.9M438.5 728.7V733.8M440.5 728.7V734.7M442.5 728.7V735.0M451.5 728.7V734.1M453.5 728.7V735.3M455.5 728.7V736.4M457.5 728.7V738.1M459.5 728.7V739.6M461.5 728.7V739.9M499.5 728.7V731.4M501.5 728.7V733.0M503.5 728.7V733.0M524.5 728.7V730.8M526.5 728.7V732.9M531.5 728.7V732.2M554.5 728.7V729.9M556.5 728.7V730.4M558.5 728.7V731.3M560.5 728.7V731.8M562.5 728.7V732.7M564.5 728.7V733.4M568.5 728.7V733.5M570.5 728.7V733.7M573.5 728.7V733.9M577.5 728.7V734.2M581.5 728.7V734.3M583.5 728.7V734.8M663.5 728.7V730.2M665.5 728.7V732.1M667.5 728.7V733.1M671.5 728.7V733.2M675.5 728.7V733.1M686.5 728.7V733.3M690.5 728.7V733.1M692.5 728.7V733.8M694.5 728.7V733.9M696.5 728.7V733.9M699.5 728.7V734.7M705.5 728.7V734.2M711.5 728.7V733.0M720.5 728.7V732.3M724.5 728.7V732.4M726.5 728.7V732.6M730.5 728.7V733.0M736.5 728.7V731.7M741.5 728.7V731.1M749.5 728.7V730.0M814.5 728.7V731.9M816.5 728.7V733.7M818.5 728.7V735.0M820.5 728.7V735.9M823.5 728.7V736.8M825.5 728.7V737.6M827.5 728.7V738.6M829.5 728.7V739.4M869.5 728.7V729.7M871.5 728.7V731.7M873.5 728.7V731.9M875.5 728.7V733.5M879.5 728.7V734.6M881.5 728.7V735.0M886.5 728.7V735.5M888.5 728.7V735.6M890.5 728.7V736.7M934.5 728.7V729.8M936.5 728.7V732.4M938.5 728.7V732.8M940.5 728.7V734.4M942.5 728.7V735.5M944.5 728.7V735.6M946.5 728.7V735.8M974.5 728.7V730.1M976.5 728.7V731.7M978.5 728.7V733.6M980.5 728.7V734.2M982.5 728.7V734.7M984.5 728.7V736.3M1022.5 728.7V729.7M1024.5 728.7V730.9" stroke="#ff5252" stroke-width="1" fill="none"/>
<path d="M58.5 728.7V730.2M62.5 728.7V730.7M70.5 728.7V732.3M73.5 728.7V732.2M75.5 728.7V732.2M79.5 728.7V733.1M85.5 728.7V732.3M87.5 728.7V731.9M89.5 728.7V731.7M91.5 728.7V731.0M94.5 728.7V730.8M96.5 728.7V730.2M203.5 728.7V731.3M205.5 728.7V731.0M211.5 728.7V731.1M213.5 728.7V730.9M215.5 728.7V730.2M220.5 728.7V730.1M224.5 728.7V730.7M226.5 728.7V730.5M228.5 728.7V729.7M234.5 728.7V729.7M238.5 728.7V729.8M241.5 728.7V729.7M243.5 728.7V729.7M245.5 728.7V729.7M251.5 728.7V729.7M264.5 728.7V729.7M356.5 728.7V750.7M358.5 728.7V749.1M360.5 728.7V748.4M362.5 728.7V746.9M365.5 728.7V745.3M367.5 728.7V744.3M369.5 728.7V743.1M371.5 728.7V741.0M373.5 728.7V739.3M375.5 728.7V737.9M377.5 728.7V736.5M379.5 728.7V734.8M381.5 728.7V732.9M383.5 728.7V730.4M428.5 728.7V731.6M432.5 728.7V733.0M436.5 728.7V733.6M444.5 728.7V734.2M446.5 728.7V734.0M449.5 728.7V733.6M463.5 728.7V737.6M465.5 728.7V733.9M467.5 728.7V731.1M505.5 728.7V731.7M528.5 728.7V731.7M533.5 728.7V731.6M535.5 728.7V730.6M537.5 728.7V729.7M539.5 728.7V729.7M566.5 728.7V732.8M575.5 728.7V733.9M579.5 728.7V734.1M585.5 728.7V732.4M587.5 728.7V730.7M589.5 728.7V729.8M669.5 728.7V732.7M673.5 728.7V732.7M678.5 728.7V732.7M680.5 728.7V732.7M682.5 728.7V732.7M684.5 728.7V732.3M688.5 728.7V732.3M701.5 728.7V734.7M703.5 728.7V733.6M707.5 728.7V733.1M709.5 728.7V732.7M713.5 728.7V731.9M715.5 728.7V731.5M717.5 728.7V731.4M722.5 728.7V731.6M728.5 728.7V732.2M732.5 728.7V731.8M734.5 728.7V731.7M738.5 728.7V730.8M743.5 728.7V730.6M745.5 728.7V730.3M747.5 728.7V729.7M751.5 728.7V729.7M753.5 728.7V729.7M755.5 728.7V729.7M831.5 728.7V739.1M833.5 728.7V737.5M835.5 728.7V736.7M837.5 728.7V735.3M839.5 728.7V735.0M841.5 728.7V733.9M844.5 728.7V733.0M846.5 728.7V730.1M877.5 728.7V733.4M883.5 728.7V734.7M892.5 728.7V736.7M894.5 728.7V735.5M896.5 728.7V734.6M898.5 728.7V733.5M900.5 728.7V732.7M902.5 728.7V732.6M904.5 728.7V732.0M907.5 728.7V729.7M949.5 728.7V732.8M951.5 728.7V730.2M986.5 728.7V736.1M988.5 728.7V735.7M991.5 728.7V735.3M993.5 728.7V734.0M995.5 728.7V732.8M997.5 728.7V732.1M999.5 728.7V730.9" stroke="#ffcdd2" stroke-width="1" fill="none"/>
<path d="M3.0 731.8C5.8 731.3 15.5 730.2 20.0 728.7C24.5 727.2 26.8 723.9 30.2 722.7C33.6 721.5 35.3 721.0 40.3 721.7C45.3 722.4 54.7 723.9 60.4 726.7C66.1 729.6 69.5 736.8 74.5 738.8C79.5 740.8 84.5 741.0 90.6 738.8C96.6 736.6 102.4 726.7 110.8 725.7C119.2 724.7 129.3 733.6 141.0 732.8C152.7 732.0 171.1 721.7 181.2 720.7C191.3 719.7 188.0 725.2 201.4 726.7C214.8 728.2 249.7 733.7 261.8 729.7C273.9 725.7 269.9 710.5 273.9 702.6C277.9 694.7 282.0 688.5 286.0 682.4C290.0 676.3 295.0 672.0 298.0 666.3C301.0 660.6 300.3 652.6 304.0 648.2C307.7 643.8 315.5 639.4 320.2 640.1C324.9 640.8 328.9 646.5 332.3 652.2C335.7 657.9 337.0 667.0 340.3 674.4C343.6 681.8 349.0 688.1 352.1 696.5C355.2 704.9 356.8 718.5 359.1 724.7C361.5 730.9 362.7 730.3 366.2 733.8C369.7 737.3 376.1 746.8 380.3 745.9C384.5 745.0 388.0 732.2 391.3 728.7C394.6 725.2 396.2 727.6 400.4 724.7C404.6 721.9 411.8 712.1 416.5 711.6C421.2 711.1 424.6 718.3 428.6 721.7C432.6 725.1 437.4 729.3 440.7 731.8C444.0 734.3 444.7 730.6 448.7 736.8C452.7 743.0 460.1 766.3 464.8 769.0C469.5 771.7 472.2 757.4 476.9 752.9C481.6 748.4 488.3 741.6 493.0 741.8C497.7 742.0 501.4 758.6 505.1 753.9C508.8 749.2 512.5 719.3 515.2 713.6C517.9 707.9 518.9 716.5 521.2 719.7C523.6 722.9 525.9 729.4 529.3 732.8C532.7 736.1 536.0 739.0 541.4 739.8C546.8 740.6 554.1 736.3 561.5 737.8C568.9 739.3 579.0 748.4 585.7 748.9C592.4 749.4 595.1 745.3 601.8 740.8C608.5 736.3 618.3 725.1 626.0 721.7C633.7 718.4 642.4 723.1 648.1 720.7C653.8 718.4 656.2 708.3 660.2 707.6C664.2 706.9 667.0 713.9 672.3 716.7C677.6 719.6 686.1 721.0 692.1 724.7C698.1 728.4 703.5 736.8 708.2 738.8C712.9 740.8 714.6 735.4 720.3 736.8C726.0 738.1 735.0 746.2 742.4 746.9C749.8 747.6 758.9 743.1 764.6 740.8C770.3 738.4 772.7 737.3 776.7 732.8C780.7 728.3 784.0 720.6 788.7 713.6C793.4 706.6 800.1 692.0 804.8 690.5C809.5 689.0 812.9 699.2 816.9 704.6C820.9 710.0 825.6 719.4 829.0 722.7C832.4 726.1 833.7 725.7 837.1 724.7C840.5 723.7 845.4 720.6 849.2 716.7C853.1 712.9 856.2 702.5 860.2 701.6C864.2 700.8 868.8 707.9 873.3 711.6C877.8 715.3 882.7 720.9 887.4 723.7C892.1 726.6 896.8 729.4 901.5 728.7C906.2 728.0 911.2 721.4 915.6 719.7C920.0 718.0 923.3 716.0 927.7 718.7C932.1 721.4 937.8 732.8 941.8 735.8C945.8 738.8 947.5 737.5 951.9 736.8C956.3 736.1 964.3 730.8 968.0 731.8C971.7 732.8 970.6 738.9 974.0 742.8C977.4 746.6 984.1 752.9 988.1 754.9C992.1 756.9 994.5 756.2 998.2 754.9C1001.9 753.6 1005.9 747.6 1010.2 746.9C1014.6 746.2 1021.9 750.2 1024.3 750.9" fill="none" stroke="#2962ff" stroke-width="1.5" stroke-linejoin="round"/>
<path d="M3.0 734.8C4.5 734.9 9.2 735.5 12.0 735.2C14.8 734.9 15.4 734.7 20.1 732.8C24.8 730.9 33.6 724.9 40.3 723.7C47.0 722.5 54.4 724.0 60.4 725.7C66.4 727.4 71.5 731.9 76.5 733.8C81.5 735.6 86.6 736.5 90.6 736.8C94.6 737.1 96.3 737.1 100.7 735.8C105.1 734.4 110.1 729.4 116.8 728.7C123.5 728.0 131.9 732.1 141.0 731.8C150.1 731.5 163.5 728.1 171.2 726.7C178.9 725.3 180.6 723.0 187.3 723.3C194.0 723.6 202.4 727.5 211.4 728.3C220.4 729.1 232.5 728.2 241.6 728.3C250.7 728.4 259.1 733.0 265.8 728.7C272.5 724.4 275.9 713.0 281.9 702.6C287.9 692.2 296.6 675.0 302.0 666.3C307.4 657.6 310.1 653.9 314.1 650.2C318.1 646.5 321.9 642.2 326.2 644.2C330.5 646.2 335.7 655.9 340.0 662.3C344.3 668.7 348.4 674.7 352.1 682.4C355.8 690.1 358.9 700.9 362.2 708.6C365.5 716.3 368.8 723.5 372.2 728.7C375.6 733.9 378.3 740.3 382.3 739.8C386.3 739.3 392.0 728.1 396.4 725.7C400.8 723.4 404.1 726.9 408.5 725.7C412.9 724.5 417.9 718.9 422.6 718.7C427.3 718.5 432.0 722.0 436.7 724.7C441.4 727.4 445.4 728.9 450.8 734.8C456.2 740.7 463.9 756.6 468.9 760.0C473.9 763.4 476.6 757.1 481.0 754.9C485.4 752.7 491.4 747.9 495.1 746.9C498.8 745.9 499.8 751.8 503.1 748.9C506.5 746.0 511.9 733.6 515.2 729.7C518.6 725.8 518.8 724.5 523.2 725.7C527.6 726.9 535.0 734.8 541.4 736.8C547.8 738.8 554.8 736.6 561.5 737.8C568.2 739.0 576.2 742.4 581.6 743.8C587.0 745.1 588.3 746.6 593.7 745.9C599.1 745.2 608.5 742.8 613.9 739.8C619.3 736.8 620.6 730.4 626.0 727.7C631.4 725.0 639.7 726.2 646.1 723.7C652.5 721.2 658.6 713.9 664.2 712.6C669.9 711.3 675.4 714.4 680.0 715.7C684.6 717.1 687.1 717.5 692.1 720.7C697.1 723.9 704.8 732.3 710.2 734.8C715.6 737.3 719.3 734.6 724.3 735.8C729.3 737.0 735.0 740.1 740.4 741.8C745.8 743.5 750.8 746.2 756.5 745.9C762.2 745.6 769.2 743.2 774.6 739.8C780.0 736.4 784.3 730.7 788.7 725.7C793.1 720.7 796.8 714.0 800.8 709.6C804.8 705.2 808.9 700.0 812.9 699.5C816.9 699.0 821.0 703.2 825.0 706.6C829.0 710.0 833.4 717.4 837.1 719.7C840.8 722.1 843.1 722.6 847.1 720.7C851.1 718.9 856.5 710.6 861.2 708.6C865.9 706.6 870.3 706.9 875.3 708.6C880.3 710.3 886.4 715.9 891.4 718.7C896.4 721.6 900.5 725.2 905.5 725.7C910.5 726.2 916.6 722.4 921.6 721.7C926.6 721.0 931.0 719.9 935.7 721.7C940.4 723.6 944.1 731.3 949.8 732.8C955.5 734.3 963.3 727.8 970.0 730.8C976.7 733.8 984.7 747.2 990.1 750.9C995.5 754.6 997.5 753.4 1002.2 752.9C1006.9 752.4 1014.4 748.6 1018.3 747.9C1022.1 747.2 1024.1 748.7 1025.3 748.9" fill="none" stroke="#9c27b0" stroke-width="4.5" stroke-linejoin="round" stroke-linecap="round"/>
<line x1="805" y1="690.5" x2="1278" y2="782" stroke="#c4dcf5" stroke-width="3" stroke-linecap="round"/>
</g>
<rect x="3" y="503.2" width="2360" height="1.6" fill="#2c2f3a"/>
<rect x="3" y="622.2" width="2360" height="1.6" fill="#2c2f3a"/>
<rect x="9" y="632" width="458" height="34" fill="#191c27" fill-opacity="0.5"/>
<text x="15.60" y="656.30" font-size="19.30" fill="#b2b5be" font-weight="normal" textLength="172.62" lengthAdjust="spacingAndGlyphs">MACD 12 26 close</text>
<text x="200.40" y="656.30" font-size="19.30" fill="#f7525f" font-weight="normal" textLength="80.24" lengthAdjust="spacingAndGlyphs">−0.0043</text>
<text x="291.20" y="656.30" font-size="19.30" fill="#2f74f5" font-weight="normal" textLength="78.83" lengthAdjust="spacingAndGlyphs">−0.0442</text>
<text x="379.60" y="656.30" font-size="19.30" fill="#a23bc1" font-weight="normal" textLength="81.24" lengthAdjust="spacingAndGlyphs">−0.0400</text>
<rect x="2215" y="712" width="136" height="37.5" rx="2" fill="#f7525f"/>
<text x="2232.40" y="740.60" font-size="26.60" fill="#ffffff" font-weight="normal" textLength="107.87" lengthAdjust="spacingAndGlyphs">−0.0043</text>
<rect x="2215" y="749.5" width="136" height="33" fill="#9c27b0"/>
<text x="2232.40" y="779.00" font-size="26.60" fill="#ffffff" font-weight="normal" textLength="107.84" lengthAdjust="spacingAndGlyphs">−0.0400</text>
<g fill="#dedede" stroke="#0e0f12" stroke-width="3.5" stroke-linejoin="round" paint-order="stroke">
<path d="M21 742.1H39.7V765.3H29.8V751.5H21Z"/><circle cx="46.4" cy="746.6" r="4.4"/><path d="M54.6 742.1H65.8L57.4 765.3H46.9Z"/>
</g>
<text x="76.80" y="765.30" font-size="32.30" fill="#dedede" font-weight="bold" textLength="180.40" lengthAdjust="spacingAndGlyphs" stroke="#0e0f12" stroke-width="4" stroke-linejoin="round" paint-order="stroke">TradingView</text>
<text x="101.60" y="820.80" font-size="25.20" fill="#b2b5be" font-weight="normal" textLength="47.96" lengthAdjust="spacingAndGlyphs">Sep</text>
<text x="228.00" y="820.80" font-size="25.20" fill="#b2b5be" font-weight="normal" textLength="48.68" lengthAdjust="spacingAndGlyphs">Nov</text>
<text x="346.60" y="820.80" font-size="25.20" fill="#b2b5be" font-weight="bold" textLength="70.45" lengthAdjust="spacingAndGlyphs">2025</text>
<text x="480.80" y="820.80" font-size="25.20" fill="#b2b5be" font-weight="normal" textLength="47.94" lengthAdjust="spacingAndGlyphs">Mar</text>
<text x="606.60" y="820.80" font-size="25.20" fill="#b2b5be" font-weight="normal" textLength="51.30" lengthAdjust="spacingAndGlyphs">May</text>
<text x="744.20" y="820.80" font-size="25.20" fill="#b2b5be" font-weight="normal" textLength="34.10" lengthAdjust="spacingAndGlyphs">Jul</text>
<text x="866.20" y="820.80" font-size="25.20" fill="#b2b5be" font-weight="normal" textLength="47.89" lengthAdjust="spacingAndGlyphs">Sep</text>
<text x="992.60" y="820.80" font-size="25.20" fill="#b2b5be" font-weight="normal" textLength="49.31" lengthAdjust="spacingAndGlyphs">Nov</text>
</g>
</svg></body></html>
